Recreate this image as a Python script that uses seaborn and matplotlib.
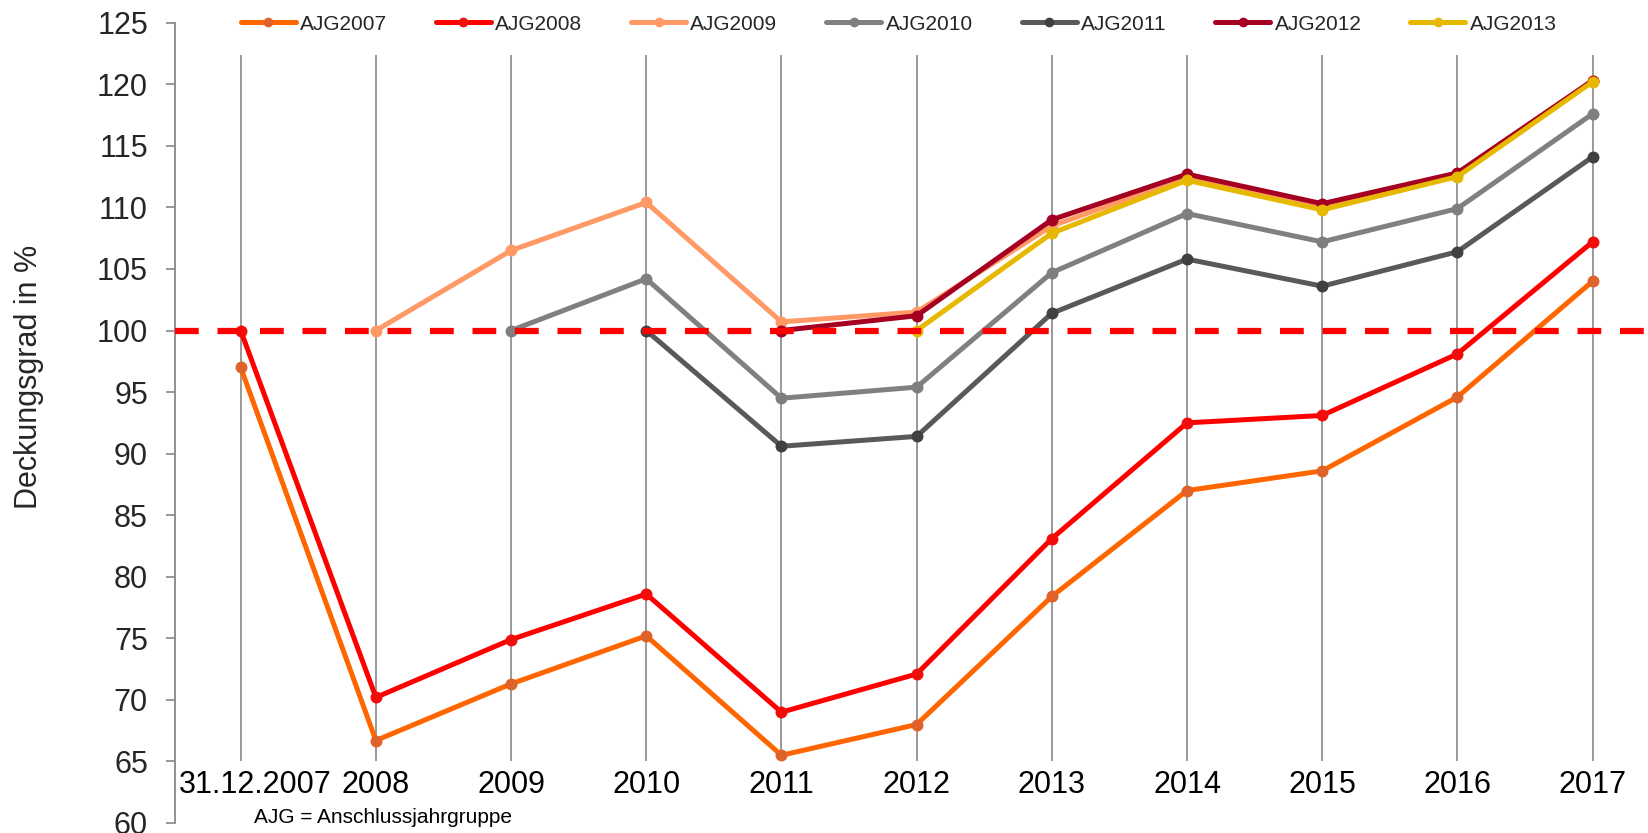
import numpy as np
import pandas as pd
import matplotlib
matplotlib.use("Agg")
import matplotlib.pyplot as plt
import seaborn as sns

categories = ["31.12.2007", "2008", "2009", "2010", "2011", "2012",
              "2013", "2014", "2015", "2016", "2017"]

series_names = ["AJG2007", "AJG2008", "AJG2009", "AJG2010", "AJG2011", "AJG2012", "AJG2013"]

ajg2007 = [97.0, 66.7, 71.3, 75.2, 65.5, 68.0, 78.4, 87.0, 88.6, 94.6, 104.0]
ajg2008 = [100.0, 70.2, 74.9, 78.6, 69.0, 72.1, 83.1, 92.5, 93.1, 98.1, 107.2]
ajg2009 = [None, 100.0, 106.5, 110.4, 100.7, 101.5, 108.5, 112.4, 110.0, 112.7, 120.3]
ajg2010 = [None, None, 100.0, 104.2, 94.5, 95.4, 104.7, 109.5, 107.2, 109.9, 117.6]
ajg2011 = [None, None, None, 100.0, 90.6, 91.4, 101.4, 105.8, 103.6, 106.4, 114.1]
ajg2012 = [None, None, None, None, 100.0, 101.2, 109.0, 112.7, 110.3, 112.8, 120.3]
ajg2013 = [None, None, None, None, None, 100.0, 107.9, 112.2, 109.8, 112.5, 120.2]

line_colors = ["#FF6600", "#FF0000", "#FF9966", "#808080", "#595959", "#A50021", "#E6B800"]
marker_colors = ["#E0622B", "#F20D0D", "#FF9966", "#7F7F7F", "#404040", "#A50021", "#E6B800"]

threshold = 100
note = "AJG = Anschlussjahrgruppe"
y_label = "Deckungsgrad in %"

sns.set_style("white")
plt.rcParams["font.family"] = ["Liberation Sans", "DejaVu Sans"]

fig = plt.figure(figsize=(16.48, 8.33), dpi=100)
ax = fig.add_axes([175 / 1648, 10 / 833, 1 - 175 / 1648, 800.3 / 833])

positions = np.arange(len(categories))
all_series = [ajg2007, ajg2008, ajg2009, ajg2010, ajg2011, ajg2012, ajg2013]

# vertical category lines
ax.vlines(positions, 65, 122.4, color="#888888", lw=1.2, zorder=0)

for name, values, lc, mc in zip(series_names, all_series, line_colors, marker_colors):
    df = pd.DataFrame({"x": positions, "y": pd.array(values, dtype="Float64")}).dropna()
    df["y"] = df["y"].astype(float)
    sns.lineplot(data=df, x="x", y="y", ax=ax, color=lc, lw=3.6, marker="o",
                 markersize=8.6, markerfacecolor=mc, markeredgecolor=mc,
                 markeredgewidth=0, label=name, zorder=3)

ax.axhline(threshold, color="#FF0000", lw=4.5, dashes=(3.8, 3.0), zorder=4)

# category labels sit inside the plot area
for i, cat in enumerate(categories):
    dx = 0.11 if i == 0 else 0
    ax.text(i + dx, 63.1, cat, ha="center", va="center", fontsize=22, color="black")

ax.text(1.05, 60.45, note, ha="center", va="center", fontsize=15, color="black")

ax.set_xlim(-0.486, 10.41)
ax.set_ylim(60, 125)
ax.set_yticks(np.arange(60, 126, 5))
ax.set_xticks([])
ax.set_xlabel("")
ax.set_ylabel(y_label, fontsize=22)
ax.yaxis.label.set_va("center")
ax.yaxis.label.set_rotation_mode("default")
ax.yaxis.set_label_coords(-0.0991, 0.5577)

for s in ["top", "right", "bottom"]:
    ax.spines[s].set_visible(False)
ax.spines["left"].set_color("#888888")
ax.spines["left"].set_linewidth(1.3)
ax.tick_params(axis="y", left=True, direction="out", length=6.5, width=1.2,
               color="#888888", labelsize=22, pad=13)

leg = ax.legend(loc="center left", bbox_to_anchor=(240.7 / 1648, 1 - 24 / 833),
                bbox_transform=fig.transFigure, ncol=7, frameon=False, fontsize=15,
                handlelength=2.64, handletextpad=0.2, columnspacing=2.35,
                borderpad=0, borderaxespad=0)
for h in leg.get_lines():
    h.set_markersize(7)

fig.savefig("out.png", dpi=100)
